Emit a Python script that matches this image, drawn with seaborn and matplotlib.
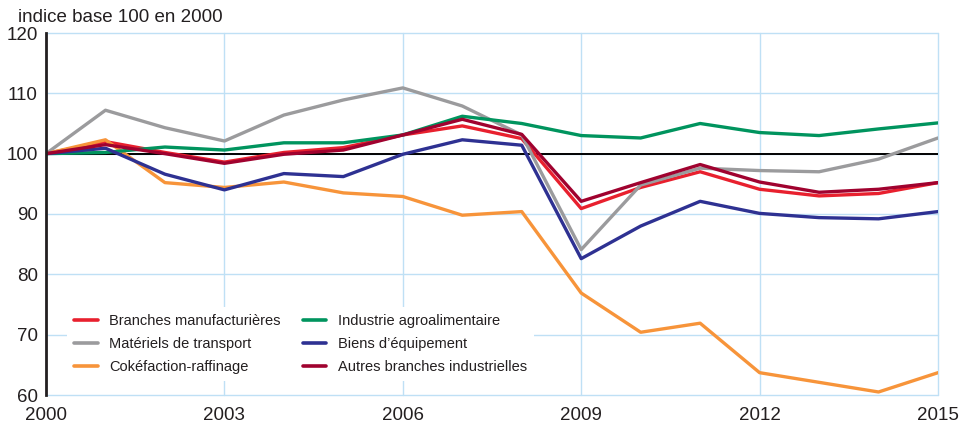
import pandas as pd
import matplotlib
matplotlib.use("Agg")
import matplotlib.pyplot as plt
import seaborn as sns

years = list(range(2000, 2016))

# indice base 100 en 2000
manufacturieres = [100, 102.0, 100.2, 98.6, 100.2, 101.0, 103.1, 104.6, 102.5, 90.9, 94.4, 97.0, 94.1, 93.0, 93.4, 95.2]
transport = [100, 107.2, 104.3, 102.1, 106.4, 108.9, 110.9, 107.9, 103.1, 84.1, 94.8, 97.6, 97.2, 97.0, 99.1, 102.6]
cokefaction = [100, 102.3, 95.2, 94.4, 95.3, 93.5, 92.9, 89.8, 90.4, 76.9, 70.4, 71.9, 63.7, 62.1, 60.5, 63.7]
agroalimentaire = [100, 100.2, 101.1, 100.6, 101.8, 101.8, 103.1, 106.2, 105.0, 103.0, 102.6, 105.0, 103.5, 103.0, 104.1, 105.1]
equipement = [100, 100.9, 96.6, 94.0, 96.7, 96.2, 99.9, 102.3, 101.4, 82.6, 88.0, 92.1, 90.1, 89.4, 89.2, 90.4]
autres = [100, 101.5, 100.0, 98.4, 99.9, 100.6, 103.1, 105.7, 103.2, 92.1, 95.2, 98.2, 95.3, 93.6, 94.1, 95.2]

series = {
    "Branches manufacturières": manufacturieres,
    "Matériels de transport": transport,
    "Cokéfaction-raffinage": cokefaction,
    "Industrie agroalimentaire": agroalimentaire,
    "Biens d\u2019équipement": equipement,
    "Autres branches industrielles": autres,
}
colors = ["#e8202e", "#9b9b9d", "#f7943a", "#00945e", "#2e3192", "#a0022f"]

df = pd.concat(
    [pd.DataFrame({"annee": years, "indice": v, "branche": k}) for k, v in series.items()],
    ignore_index=True,
)

sns.set_style("white")
plt.rcParams["font.family"] = ["Liberation Sans", "DejaVu Sans"]
plt.rcParams["text.color"] = "#231f20"

fig = plt.figure(figsize=(9.63, 4.24), dpi=100)
ax = fig.add_axes([46 / 963, 29 / 424, 892 / 963, 362 / 424])

ax.axhline(100, color="black", lw=1.4, zorder=2)
sns.lineplot(data=df, x="annee", y="indice", hue="branche",
             palette=colors, linewidth=2.4, ax=ax, zorder=3)

ax.set_xlim(2000, 2015)
ax.set_ylim(60, 120)
ax.set_xticks(range(2000, 2016, 3))
ax.set_yticks(range(60, 121, 10))
ax.grid(True, color="#bfe0f5", lw=1.0, zorder=0)
for g in ax.get_xgridlines() + ax.get_ygridlines():
    g.set_clip_on(False)
for s in ["top", "right", "bottom"]:
    ax.spines[s].set_visible(False)
ax.spines["left"].set_color("#231f20")
ax.spines["left"].set_linewidth(2)
ax.spines["left"].set_zorder(4)
ax.tick_params(axis="both", length=0, labelsize=13.5, colors="#231f20")
ax.tick_params(axis="y", pad=6)
ax.tick_params(axis="x", pad=9)
ax.set_xlabel("")
ax.set_ylabel("")

fig.text(18 / 963, 1 - 17 / 424, "indice base 100 en 2000", fontsize=13.5,
         va="center", ha="left", color="#231f20")

leg = ax.legend(loc="upper left", bbox_to_anchor=(0.0235, 0.243), ncol=2,
                fontsize=10.5, frameon=True, fancybox=False, borderaxespad=0,
                handlelength=1.6, handletextpad=0.8, columnspacing=1.5,
                labelspacing=0.6, borderpad=0.5)
leg.get_frame().set_facecolor("white")
leg.get_frame().set_edgecolor("none")
leg.get_frame().set_alpha(1)
for line in leg.get_lines():
    line.set_linewidth(2.6)

fig.savefig("out.png", dpi=100)
